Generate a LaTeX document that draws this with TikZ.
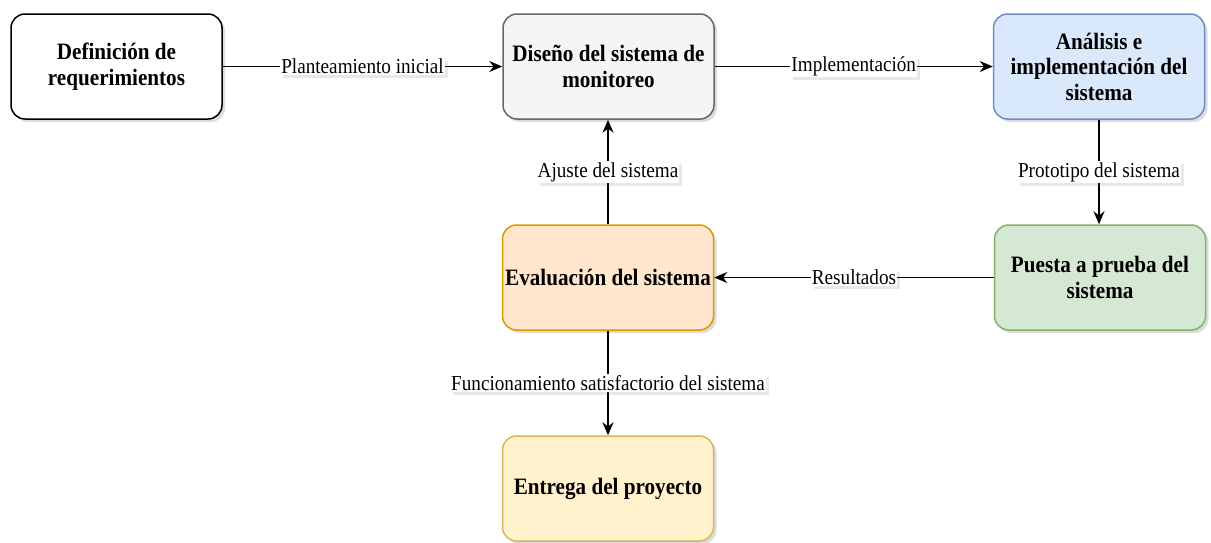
\documentclass[tikz,border=0pt]{standalone}
\usepackage{fontspec}
\setmainfont{Liberation Serif}[FakeStretch=0.9]
\usetikzlibrary{arrows.meta,shadows}
\definecolor{grayfill}{HTML}{F5F5F5}
\definecolor{graystroke}{HTML}{666666}
\definecolor{bluefill}{HTML}{DAE8FC}
\definecolor{bluestroke}{HTML}{6C8EBF}
\definecolor{greenfill}{HTML}{D5E8D4}
\definecolor{greenstroke}{HTML}{82B366}
\definecolor{orangefill}{HTML}{FFE6CC}
\definecolor{orangestroke}{HTML}{D79B00}
\definecolor{yellowfill}{HTML}{FFF2CC}
\definecolor{yellowstroke}{HTML}{D6B656}
\begin{document}
\begin{tikzpicture}[x=1pt,y=-1pt,
  box/.style={draw, rounded corners=14pt, minimum width=211pt, minimum height=105pt,
    line width=1.5pt, align=center, inner sep=2pt,
    font=\fontsize{23.5}{25.5}\selectfont\bfseries,
    drop shadow={shadow xshift=3pt, shadow yshift=-3pt, opacity=0.28}},
  lbl/.style={fill=white, font=\fontsize{21.3}{24}\selectfont, inner sep=1pt,
    drop shadow={shadow xshift=3pt, shadow yshift=-3pt, opacity=0.18}},
  conn/.style={line width=1.5pt, -{Stealth[length=13pt,width=11pt]}}]
\useasboundingbox (0,0) rectangle (1211,542);
\node[box, fill=white] (b1) at (116.5,66.5) {Definición de\\requerimientos};
\node[box, fill=grayfill, draw=graystroke] (b2) at (608.5,66.5) {Diseño del sistema de\\monitoreo};
\node[box, fill=bluefill, draw=bluestroke] (b3) at (1099,66.5) {Análisis e\\implementación del\\sistema};
\node[box, fill=greenfill, draw=greenstroke] (b4) at (1100,277.5) {Puesta a prueba del\\sistema};
\node[box, fill=orangefill, draw=orangestroke] (b5) at (608,277.5) {Evaluación del sistema};
\node[box, fill=yellowfill, draw=yellowstroke] (b6) at (608,488.5) {Entrega del proyecto};
\draw[conn] (b1.east) -- node[lbl] {Planteamiento inicial} (b2.west);
\draw[conn] (b2.east) -- node[lbl] {Implementación} (b3.west);
\draw[conn] (b3.south) -- node[lbl] {Prototipo del sistema} (b3.south |- b4.north);
\draw[conn] (b4.west) -- node[lbl] {Resultados} (b5.east);
\draw[conn] (b5.north) -- node[lbl] {Ajuste del sistema} (b2.south -| b5.north);
\draw[conn] (b5.south) -- node[lbl] {Funcionamiento satisfactorio del sistema} (b6.north);
\end{tikzpicture}
\end{document}
